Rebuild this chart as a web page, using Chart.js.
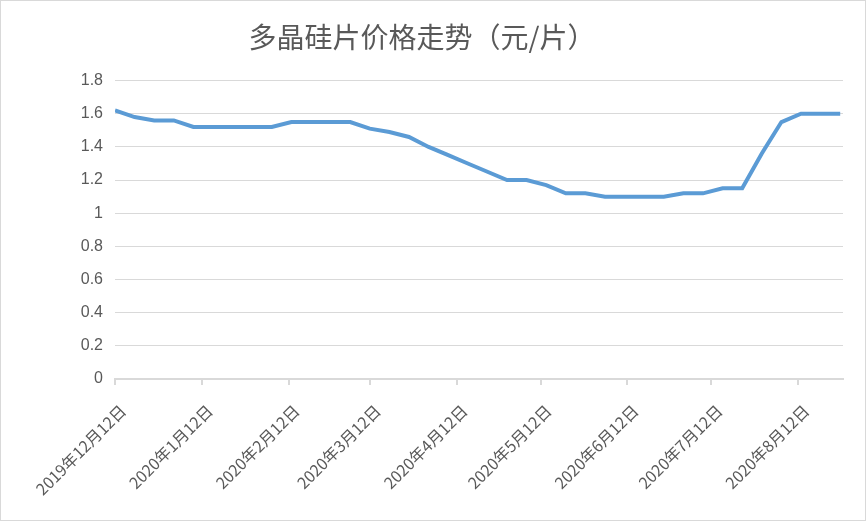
<!DOCTYPE html>
<html>
<head>
<meta charset="utf-8">
<script src="https://cdn.jsdelivr.net/npm/chart.js@4"></script>
<style>
    html, body { margin: 0; padding: 0; background: #fff; }
    #box { width: 864px; height: 519px; border: 1px solid #d9d9d9; }
</style>
</head>
<body>
<div id="box"><canvas id="priceGraph" width="864" height="519"></canvas></div>
<script>
// days counted from 2019-12-12, one reading per week
const days = [0, 7, 14, 21, 28, 35, 42, 49, 56, 63, 70, 77, 84, 91, 98, 105, 112, 119, 126,
    133, 140, 147, 154, 161, 168, 175, 182, 189, 196, 203, 210, 217, 224, 231, 238, 245, 252, 259];
const prices = [1.62, 1.58, 1.56, 1.56, 1.52, 1.52, 1.52, 1.52, 1.52, 1.55, 1.55, 1.55, 1.55, 1.51, 1.49, 1.46, 1.40, 1.35, 1.30,
    1.25, 1.20, 1.20, 1.17, 1.12, 1.12, 1.10, 1.10, 1.10, 1.10, 1.12, 1.12, 1.15, 1.15, 1.36, 1.55, 1.60, 1.60, 1.60];
const tickDays = [0, 31, 62, 91, 122, 152, 183, 213, 244];
const tickLabels = ["2019年12月12日", "2020年1月12日", "2020年2月12日", "2020年3月12日", "2020年4月12日",
    "2020年5月12日", "2020年6月12日", "2020年7月12日", "2020年8月12日"];
const title = "多晶硅片价格走势（元/片）";

const font = "'Noto Sans CJK SC', 'Noto Sans', sans-serif";
const points = days.map((d, i) => ({ x: d, y: prices[i] }));

new Chart(document.getElementById("priceGraph"), {
    type: "line",
    data: {
        datasets: [{
            data: points,
            borderColor: "#5b9bd5",
            borderWidth: 4,
            pointRadius: 0,
            tension: 0,
            fill: false
        }]
    },
    options: {
        responsive: false,
        animation: false,
        layout: { padding: { left: 0, right: 22, top: 0, bottom: 0 } },
        plugins: {
            legend: { display: false },
            tooltip: { enabled: false },
            title: {
                display: true,
                text: title,
                color: "#595959",
                font: { family: font, size: 28, weight: "normal", lineHeight: 1.2 },
                padding: { top: 20, bottom: 26 }
            }
        },
        scales: {
            x: {
                type: "linear",
                min: 0,
                max: 260,
                afterBuildTicks: (axis) => {
                    axis.ticks = tickDays.map((v) => ({ value: v }));
                },
                afterFit: (axis) => { axis.height = 141; },
                ticks: {
                    autoSkip: false,
                    maxRotation: 45,
                    minRotation: 45,
                    color: "#595959",
                    font: { family: font, size: 16 },
                    padding: 16,
                    labelOffset: 8,
                    callback: (v) => tickLabels[tickDays.indexOf(v)]
                },
                grid: { drawOnChartArea: false, drawTicks: true, tickLength: 6, color: "#d9d9d9", lineWidth: 2 },
                border: { display: true, color: "#d9d9d9", width: 2 }
            },
            y: {
                min: 0,
                max: 1.8,
                afterFit: (axis) => { axis.width = 114; },
                ticks: {
                    stepSize: 0.2,
                    color: "#595959",
                    font: { family: "'Liberation Sans', sans-serif", size: 16 },
                    padding: 12,
                    callback: (v) => String(Number(v.toFixed(1)))
                },
                grid: { color: "#d9d9d9", lineWidth: 1, drawTicks: false },
                border: { display: false }
            }
        }
    }
});
</script>
</body>
</html>
